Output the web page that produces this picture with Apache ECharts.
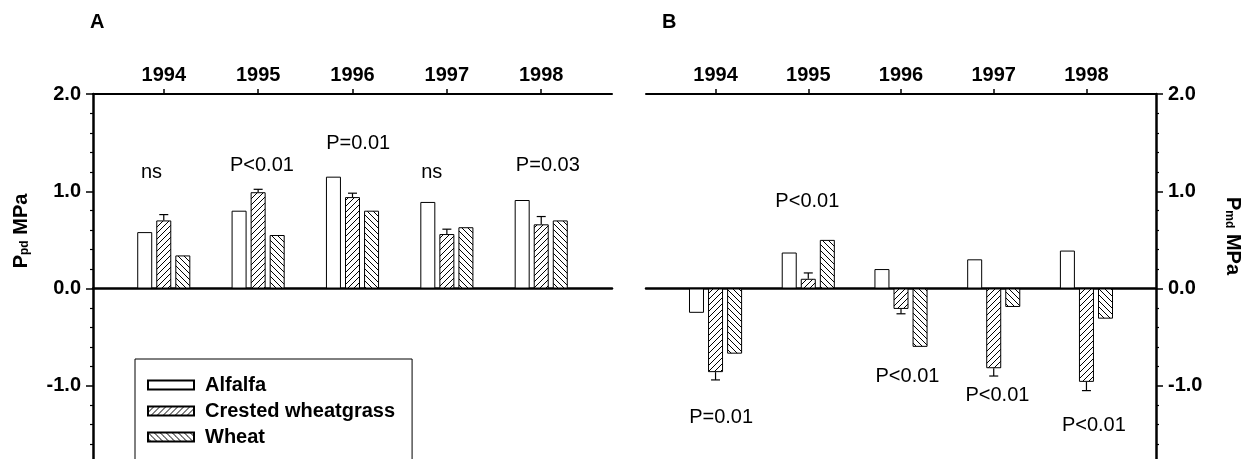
<!DOCTYPE html>
<html><head><meta charset="utf-8">
<script src="https://cdn.jsdelivr.net/npm/echarts@6/dist/echarts.min.js"></script>
<style>html,body{margin:0;padding:0;background:#fff}#c{width:1250px;height:459px}</style>
</head><body><div id="c"></div>
<script>
// ---------- data ----------
const years = [1994, 1995, 1996, 1997, 1998];
const seriesNames = ['Alfalfa', 'Crested wheatgrass', 'Wheat'];
// Panel A: predawn water potential (Ppd, MPa)
const pdAlfalfa = [0.58, 0.80, 1.15, 0.89, 0.91];
const pdCrested = [0.70, 0.99, 0.94, 0.56, 0.66];
const pdWheat   = [0.34, 0.55, 0.80, 0.63, 0.70];
const pdCrestedErr = [0.06, 0.03, 0.04, 0.05, 0.08];
// Panel B: midday water potential (Pmd, MPa)
const mdAlfalfa = [-0.25, 0.37, 0.20, 0.30, 0.39];
const mdCrested = [-0.86, 0.10, -0.21, -0.82, -0.96];
const mdWheat   = [-0.67, 0.50, -0.60, -0.19, -0.31];
const mdCrestedErr = [0.08, 0.06, 0.05, 0.08, 0.09];
// significance annotations
const annotA  = ['ns', 'P<0.01', 'P=0.01', 'ns', 'P=0.03'];
const annotAX = [1993.87, 1995.04, 1996.06, 1996.84, 1998.07];
const annotAY = [1.19, 1.27, 1.49, 1.19, 1.27];
const annotB  = ['P=0.01', 'P<0.01', 'P<0.01', 'P<0.01', 'P<0.01'];
const annotBX = [1994.06, 1994.99, 1996.07, 1997.04, 1998.08];
const annotBY = [-1.33, 0.89, -0.90, -1.10, -1.41];

// ---------- styling helpers ----------
const FONT = '"Liberation Sans", Arial, sans-serif';
function hatch(dir) {
  const s = 6, c = document.createElement('canvas');
  c.width = s; c.height = s;
  const g = c.getContext('2d');
  g.fillStyle = '#fff'; g.fillRect(0, 0, s, s);
  g.strokeStyle = '#000'; g.lineWidth = 1;
  g.beginPath();
  if (dir > 0) { // "/"
    g.moveTo(-1, s + 1); g.lineTo(s + 1, -1);
    g.moveTo(-1, 1); g.lineTo(1, -1);
    g.moveTo(s - 1, s + 1); g.lineTo(s + 1, s - 1);
  } else { // "\"
    g.moveTo(-1, -1); g.lineTo(s + 1, s + 1);
    g.moveTo(s - 1, -1); g.lineTo(s + 1, 1);
    g.moveTo(-1, s - 1); g.lineTo(1, s + 1);
  }
  g.stroke();
  return { image: c, repeat: 'repeat' };
}
const fills = ['#ffffff', hatch(1), hatch(-1)];

const chart = echarts.init(document.getElementById('c'), null, { renderer: 'canvas' });

function xAxesFor(gi) {
  return [
    { type: 'value', gridIndex: gi, position: 'top', min: 1993.25, max: 1998.75,
      axisLine: { onZero: false, lineStyle: { color: '#000', width: 2 } },
      axisTick: { show: true, inside: false, length: 5, customValues: years, lineStyle: { color: '#000', width: 1.5 } },
      axisLabel: { customValues: years, formatter: v => String(v), fontFamily: FONT, fontWeight: 'bold', fontSize: 20, color: '#000', margin: 9 },
      splitLine: { show: false } },
    { type: 'value', gridIndex: gi, position: 'bottom', min: 1993.25, max: 1998.75,
      axisLine: { onZero: true, lineStyle: { color: '#000', width: 2.5 } },
      axisTick: { show: false }, axisLabel: { show: false }, splitLine: { show: false } }
  ];
}
function yAxisFor(gi, pos) {
  return { type: 'value', gridIndex: gi, position: pos, min: -2, max: 2, interval: 1,
    axisLine: { show: true, onZero: false, lineStyle: { color: '#000', width: 2.5 } },
    axisTick: { show: true, inside: false, length: 7, lineStyle: { color: '#000', width: 1.5 } },
    minorTick: { show: true, splitNumber: 5, length: 3, lineStyle: { color: '#000', width: 1.2 } },
    axisLabel: { formatter: v => v.toFixed(1), fontFamily: FONT, fontWeight: 'bold', fontSize: 20, color: '#000', margin: 12 },
    splitLine: { show: false } };
}
function barSeries(xi, yi, vals, k) {
  return { type: 'bar', name: seriesNames[k], xAxisIndex: xi, yAxisIndex: yi,
    data: years.map((y, i) => [y, vals[i]]),
    barWidth: 15, barGap: '27%',
    itemStyle: { color: fills[k], borderColor: '#000', borderWidth: 1 },
    emphasis: { disabled: true }, silent: true };
}
function errSeries(xi, yi, vals, errs) {
  return { type: 'custom', xAxisIndex: xi, yAxisIndex: yi, z: 5, silent: true,
    data: years.map((y, i) => [y, vals[i], errs[i]]),
    renderItem: (params, api) => {
      const x = api.value(0), v = api.value(1), e = api.value(2);
      const end = v >= 0 ? v + e : v - e;
      const p0 = api.coord([x, v]), p1 = api.coord([x, end]);
      return { type: 'group', children: [
        { type: 'line', shape: { x1: p0[0], y1: p0[1], x2: p1[0], y2: p1[1] }, style: { stroke: '#000', lineWidth: 1.2 } },
        { type: 'line', shape: { x1: p1[0] - 4.5, y1: p1[1], x2: p1[0] + 4.5, y2: p1[1] }, style: { stroke: '#000', lineWidth: 1.2 } }
      ]};
    } };
}
function annotSeries(xi, yi, texts, xs, ys) {
  return { type: 'custom', xAxisIndex: xi, yAxisIndex: yi, silent: true, z: 6,
    data: texts.map((t, i) => [xs[i], ys[i], i]),
    renderItem: (params, api) => {
      const p = api.coord([api.value(0), api.value(1)]);
      return { type: 'text', x: p[0], y: p[1],
        style: { text: texts[api.value(2)], font: '20px ' + FONT, fill: '#000', align: 'center', verticalAlign: 'middle' } };
    } };
}

const option = {
  animation: false,
  backgroundColor: '#fff',
  grid: [
    { left: 93, top: 94, width: 519, height: 389, outerBoundsMode: 'none', containLabel: false },
    { left: 646, top: 94, width: 510, height: 389, outerBoundsMode: 'none', containLabel: false }
  ],
  xAxis: [...xAxesFor(0), ...xAxesFor(1)],
  yAxis: [yAxisFor(0, 'left'), yAxisFor(1, 'right')],
  legend: {
    data: seriesNames, orient: 'vertical', left: 135, top: 359, height: 74,
    padding: [16, 17, 30, 12], borderColor: '#000', borderWidth: 1,
    itemWidth: 46, itemHeight: 9, itemGap: 6, icon: 'rect', selectedMode: false,
    textStyle: { fontFamily: FONT, fontWeight: 'bold', fontSize: 20, color: '#000', padding: [0, 0, 0, 6] }
  },
  series: [
    barSeries(0, 0, pdAlfalfa, 0), barSeries(0, 0, pdCrested, 1), barSeries(0, 0, pdWheat, 2),
    errSeries(0, 0, pdCrested, pdCrestedErr),
    annotSeries(0, 0, annotA, annotAX, annotAY),
    barSeries(2, 1, mdAlfalfa, 0), barSeries(2, 1, mdCrested, 1), barSeries(2, 1, mdWheat, 2),
    errSeries(2, 1, mdCrested, mdCrestedErr),
    annotSeries(2, 1, annotB, annotBX, annotBY)
  ],
  graphic: [
    { type: 'text', left: 90, top: 12, style: { text: 'A', font: 'bold 20px ' + FONT, fill: '#000' } },
    { type: 'text', left: 662, top: 12, style: { text: 'B', font: 'bold 20px ' + FONT, fill: '#000' } },
    { type: 'text', x: 20, y: 231, rotation: Math.PI / 2,
      style: { text: '{m|P}{s|pd}{m| MPa}', align: 'center', verticalAlign: 'middle', fill: '#000',
        rich: { m: { fontFamily: FONT, fontWeight: 'bold', fontSize: 20, fill: '#000', verticalAlign: 'bottom', lineHeight: 22 },
                s: { fontFamily: FONT, fontWeight: 'bold', fontSize: 12, fill: '#000', verticalAlign: 'bottom', lineHeight: 16, padding: [10, 0, 0, 0] } } } },
    { type: 'text', x: 1234, y: 236, rotation: -Math.PI / 2,
      style: { text: '{m|P}{s|md}{m| MPa}', align: 'center', verticalAlign: 'middle', fill: '#000',
        rich: { m: { fontFamily: FONT, fontWeight: 'bold', fontSize: 20, fill: '#000', verticalAlign: 'bottom', lineHeight: 22 },
                s: { fontFamily: FONT, fontWeight: 'bold', fontSize: 12, fill: '#000', verticalAlign: 'bottom', lineHeight: 16, padding: [16, 0, 0, 0] } } } }
  ]
};
chart.setOption(option);
</script></body></html>
